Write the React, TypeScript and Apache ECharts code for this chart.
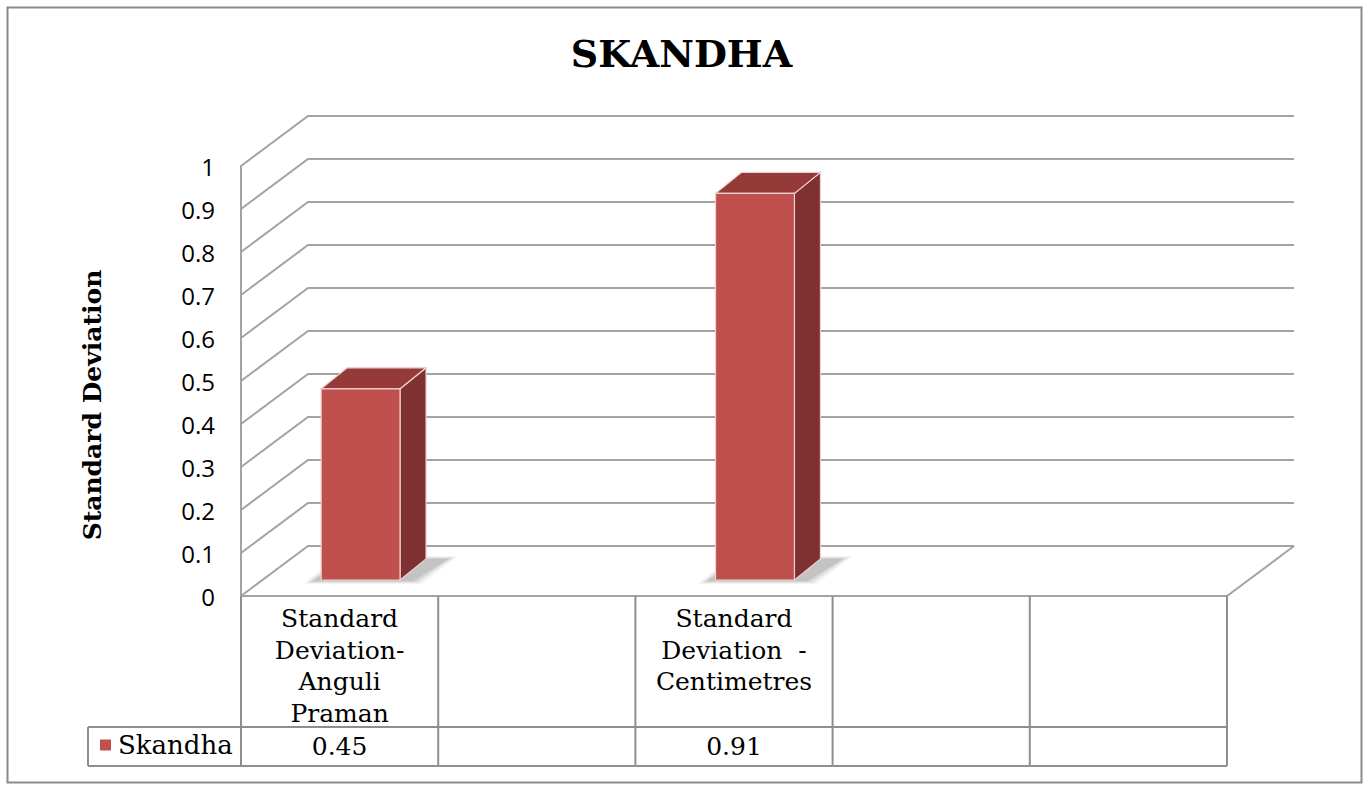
import React, { useEffect, useRef } from "react";
import * as echarts from "echarts";

const chartTitle = "SKANDHA";
const yAxisTitle = "Standard Deviation";
const seriesName = "Skandha";
const categories = [
  "Standard\nDeviation-\nAnguli\nPraman",
  "",
  "Standard\nDeviation  -\nCentimetres",
  "",
  "",
];
const values: (number | null)[] = [0.45, null, 0.91, null, null];
const yTicks = [0, 0.1, 0.2, 0.3, 0.4, 0.5, 0.6, 0.7, 0.8, 0.9, 1];

const DX = 67;
const DY = 50;
const GRID_COLOR = "#a3a3a3";
const TABLE_COLOR = "#8e8e8e";
const SERIF = "'DejaVu Serif', serif";
const BAR_FRONT = "#C0504D";
const BAR_SIDE = "#7E3130";
const BAR_TOP = "#943B39";

export default function App() {
  const ref = useRef<HTMLDivElement>(null);
  useEffect(() => {
    document.body.style.margin = "0";
    const chart = echarts.init(ref.current!, undefined, { renderer: "svg" });

    const wallsSeries: any = {
      type: "custom",
      name: "walls",
      z: 1,
      silent: true,
      data: yTicks.map((v) => [0, v]),
      renderItem: (params: any, api: any) => {
        const cs = params.coordSys;
        const v = api.value(1);
        const y = api.coord([0, v])[1];
        const x0 = cs.x;
        const x1 = cs.x + cs.width;
        const style = { stroke: GRID_COLOR, lineWidth: 2, fill: "none" };
        const children: any[] = [
          {
            type: "polyline",
            shape: { points: [[x0, y], [x0 + DX, y - DY], [x1 + DX, y - DY]] },
            style,
          },
        ];
        if (v === 0) {
          children.push({
            type: "polyline",
            shape: { points: [[x0, y], [x1, y], [x1 + DX, y - DY]] },
            style,
          });
        }
        return { type: "group", children };
      },
    };

    const tableSeries: any = {
      type: "custom",
      name: "table",
      z: 2,
      silent: true,
      data: categories.map((_, i) => [i, 0]),
      renderItem: (params: any, api: any) => {
        const i = api.value(0);
        const c = api.coord([i, 0]);
        const band = api.size([1, 0])[0];
        const xl = c[0] - band / 2;
        const xr = c[0] + band / 2;
        const y0 = c[1];
        const r1 = y0 + 131;
        const r2 = y0 + 170;
        const ls = { stroke: TABLE_COLOR, lineWidth: 2 };
        const children: any[] = [
          { type: "line", shape: { x1: xl, y1: y0, x2: xl, y2: r2 }, style: ls },
          { type: "line", shape: { x1: xl, y1: r1, x2: xr, y2: r1 }, style: ls },
          { type: "line", shape: { x1: xl, y1: r2, x2: xr, y2: r2 }, style: ls },
          {
            type: "text",
            x: c[0],
            y: y0 + 7,
            style: {
              text: categories[i],
              align: "center",
              verticalAlign: "top",
              lineHeight: 31.5,
              font: `25px ${SERIF}`,
              fill: "#000",
            },
          },
          {
            type: "text",
            x: c[0],
            y: y0 + 150,
            style: {
              text: values[i] == null ? "" : String(values[i]),
              align: "center",
              verticalAlign: "middle",
              font: `25px ${SERIF}`,
              fill: "#000",
            },
          },
        ];
        if (i === categories.length - 1) {
          children.push({ type: "line", shape: { x1: xr, y1: y0, x2: xr, y2: r2 }, style: ls });
        }
        if (i === 0) {
          const lx = 88;
          children.push(
            { type: "line", shape: { x1: lx, y1: r1, x2: xl, y2: r1 }, style: ls },
            { type: "line", shape: { x1: lx, y1: r2, x2: xl, y2: r2 }, style: ls },
            { type: "line", shape: { x1: lx, y1: r1, x2: lx, y2: r2 }, style: ls }
          );
        }
        return { type: "group", children };
      },
    };

    const barData: any[] = [];
    values.forEach((v, i) => {
      if (v != null) barData.push([i, v]);
    });

    const barSeries: any = {
      type: "custom",
      name: seriesName,
      z: 3,
      itemStyle: { color: BAR_FRONT },
      data: barData,
      renderItem: (params: any, api: any) => {
        const i = api.value(0);
        const v = api.value(1);
        const base = api.coord([i, 0]);
        const top = api.coord([i, v]);
        const band = api.size([1, 0])[0];
        const w = band * 0.4;
        const sx = 21;
        const sy = -16;
        const h = (base[1] - top[1]) * 0.988;
        const xl = base[0] + sx - w / 2;
        const xr = xl + w;
        const bottom = base[1] + sy;
        const topY = bottom - h;
        const bdx = 26;
        const bdy = 21;
        const edge = { stroke: "#efcfce", lineWidth: 1.2 };
        const shadowLayers: any[] = [];
        const layers = [
          { g: 10, a: 0.05 },
          { g: 7, a: 0.07 },
          { g: 4, a: 0.09 },
          { g: 1, a: 0.12 },
        ];
        layers.forEach((L) => {
          shadowLayers.push({
            type: "polygon",
            shape: {
              points: [
                [xl - 8 - L.g, bottom + 1 + L.g * 0.3],
                [xr + 12 + L.g, bottom + 1 + L.g * 0.3],
                [xr + bdx + 22 + L.g, bottom - bdy - L.g * 0.3],
                [xl + bdx - L.g, bottom - bdy - L.g * 0.3],
              ],
            },
            style: { fill: `rgba(60,60,60,${L.a})` },
          });
        });
        return {
          type: "group",
          children: [
            ...shadowLayers,
            {
              type: "polygon",
              shape: { points: [[xr, topY], [xr + bdx, topY - bdy], [xr + bdx, bottom - bdy], [xr, bottom]] },
              style: { fill: BAR_SIDE, ...edge },
            },
            {
              type: "polygon",
              shape: { points: [[xl, topY], [xl + bdx, topY - bdy], [xr + bdx, topY - bdy], [xr, topY]] },
              style: { fill: BAR_TOP, ...edge },
            },
            {
              type: "rect",
              shape: { x: xl, y: topY, width: w, height: h },
              style: { fill: BAR_FRONT, ...edge },
            },
          ],
        };
      },
    };

    chart.setOption({
      animation: false,
      backgroundColor: "#ffffff",
      title: {
        text: chartTitle,
        left: "center",
        top: 29,
        textStyle: { fontFamily: SERIF, fontWeight: "bold", fontSize: 38, color: "#000" },
      },
      legend: {
        data: [seriesName],
        left: 100,
        top: 732,
        padding: 0,
        icon: "rect",
        itemWidth: 11,
        itemHeight: 11,
        itemGap: 6,
        selectedMode: false,
        textStyle: { fontFamily: SERIF, fontSize: 26, color: "#000", padding: [0, 0, 0, 2] },
      },
      grid: { left: 241, right: 136, top: 166, bottom: 189, containLabel: false },
      xAxis: {
        type: "category",
        data: categories,
        boundaryGap: true,
        axisLine: { show: false },
        axisTick: { show: false },
        axisLabel: { show: false },
        splitLine: { show: false },
      },
      yAxis: {
        type: "value",
        min: 0,
        max: 1,
        interval: 0.1,
        axisLine: { show: true, lineStyle: { color: GRID_COLOR, width: 2 } },
        axisTick: { show: false },
        splitLine: { show: false },
        axisLabel: {
          margin: 26,
          fontFamily: "'Open Sans', sans-serif",
          fontSize: 24,
          color: "#000",
        },
      },
      graphic: [
        {
          type: "rect",
          shape: { x: 7.5, y: 7.5, width: 1354, height: 775 },
          style: { fill: "none", stroke: "#8a8a8a", lineWidth: 2 },
          silent: true,
        },
        {
          type: "text",
          x: 92,
          y: 405,
          rotation: Math.PI / 2,
          style: {
            text: yAxisTitle,
            align: "center",
            verticalAlign: "middle",
            font: `bold 25px ${SERIF}`,
            fill: "#000",
          },
        },
      ],
      series: [wallsSeries, tableSeries, barSeries],
    });
    return () => chart.dispose();
  }, []);
  return <div ref={ref} style={{ width: 1363, height: 785 }} />;
}
